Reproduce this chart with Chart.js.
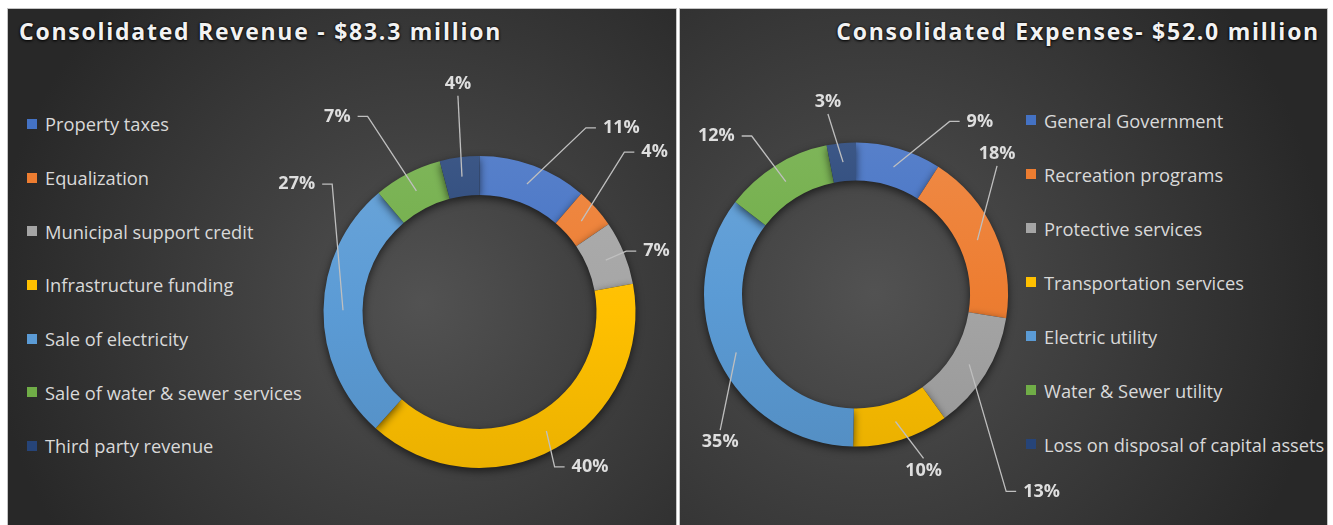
<!DOCTYPE html>
<html>
<head>
<meta charset="utf-8">
<script src="https://cdn.jsdelivr.net/npm/chart.js@4.4.0/dist/chart.umd.min.js"></script>
<style>
  body { margin: 0; background: #fff; width: 1333px; height: 525px; overflow: hidden; font-family: 'Open Sans', sans-serif; }
  .panel { position: absolute; top: 9px; height: 516px; outline: 1px solid #c4c4c4; overflow: hidden; }
  #revPanel { left: 8px; width: 668px; background: radial-gradient(circle at 62% 57%, #525252 0%, #404040 35%, #282828 85%); }
  #expPanel { left: 680px; width: 647px; background: radial-gradient(circle at 30% 55%, #525252 0%, #404040 35%, #282828 85%); }
  .title { position: absolute; top: 6px; font-weight: 700; font-size: 23px; letter-spacing: 1.75px; color: #f2f2f2; white-space: nowrap;
           text-shadow: 0 1px 3px rgba(0,0,0,0.95), 0 0 2px rgba(0,0,0,0.8); }
  #revPanel .title { left: 11px; }
  #expPanel .title { right: 7px; }
  .legend { position: absolute; }
  .legend .item { display: flex; align-items: center; font-size: 18.3px; color: #d9d9d9; white-space: nowrap; }
  #revLegend .item { height: 53.7px; }
  #expLegend .item { height: 54px; }
  .legend .box { width: 10px; height: 10px; margin-right: 8px; flex: none; }
  .wrap { position: absolute; left: 0; top: 0; }
</style>
</head>
<body>
<div class="panel" id="revPanel">
  <div class="title">Consolidated Revenue - $83.3 million</div>
  <div class="legend" id="revLegend" style="left:19px; top:88px;"></div>
  <div class="wrap" style="width:668px; height:516px;"><canvas id="revCanvas"></canvas></div>
</div>
<div class="panel" id="expPanel">
  <div class="title">Consolidated Expenses- $52.0 million</div>
  <div class="legend" id="expLegend" style="left:346px; top:84px;"></div>
  <div class="wrap" style="width:647px; height:516px;"><canvas id="expCanvas"></canvas></div>
</div>
<script>
        // revenue sources, share of total (%)
        const revenueLabels = ['Property taxes', 'Equalization', 'Municipal support credit', 'Infrastructure funding',
            'Sale of electricity', 'Sale of water & sewer services', 'Third party revenue'];
        const revenueShares = [11.3, 4.2, 6.6, 39.5, 27.2, 7.1, 4.1];

        // expense categories, share of total (%)
        const expenseLabels = ['General Government', 'Recreation programs', 'Protective services', 'Transportation services',
            'Electric utility', 'Water & Sewer utility', 'Loss on disposal of capital assets'];
        const expenseShares = [9.1, 18.4, 12.6, 10.2, 35.1, 11.5, 3.1];

        const sliceColors = ['#4472c4', '#ed7d31', '#a5a5a5', '#ffc000', '#5b9bd5', '#70ad47', '#264478'];

        // where each percentage label sits: [degrees clockwise from 12 o'clock, distance in outer radii]
        const revenueSpots = [[37.6, 1.49], [47.6, 1.52], [71, 1.2], [144.5, 1.22], [305, 1.43], [324, 1.55], [354.6, 1.47]];
        const expenseSpots = [[35.6, 1.40], [45.1, 1.31], [136.7, 1.78], [159, 1.24], [222.6, 1.32], [318.6, 1.39], [351.7, 1.28]];

        function shade(hex, amt) {
            const n = parseInt(hex.slice(1), 16);
            let r = n >> 16, g = (n >> 8) & 255, b = n & 255;
            if (amt > 0) { r += (255 - r) * amt; g += (255 - g) * amt; b += (255 - b) * amt; }
            else { r *= 1 + amt; g *= 1 + amt; b *= 1 + amt; }
            return `rgb(${Math.round(r)},${Math.round(g)},${Math.round(b)})`;
        }

        function sliceFill(context) {
            const chart = context.chart;
            const area = chart.chartArea;
            const base = sliceColors[context.dataIndex];
            if (!area) return base;
            const g = chart.ctx.createLinearGradient(0, area.top, 0, area.bottom);
            g.addColorStop(0, shade(base, 0.1));
            g.addColorStop(0.5, base);
            g.addColorStop(1, shade(base, -0.08));
            return g;
        }

        const ringShadow = {
            id: 'ringShadow',
            beforeDatasetsDraw(chart) {
                const c = chart.ctx;
                c.save();
                c.shadowColor = 'rgba(0,0,0,0.6)';
                c.shadowBlur = 9;
                c.shadowOffsetY = 3;
            },
            afterDatasetsDraw(chart) {
                chart.ctx.restore();
            }
        };

        const leaderLabels = {
            id: 'leaderLabels',
            afterDraw(chart, args, opts) {
                const c = chart.ctx;
                const values = chart.data.datasets[0].data;
                const total = values.reduce((a, b) => a + b, 0);
                const meta = chart.getDatasetMeta(0);
                c.save();
                c.font = 'bold 18px "Open Sans"';
                c.textAlign = 'center';
                c.textBaseline = 'middle';
                meta.data.forEach((arc, i) => {
                    const p = arc.getProps(['x', 'y', 'startAngle', 'endAngle', 'innerRadius', 'outerRadius'], true);
                    const mid = (p.startAngle + p.endAngle) / 2;
                    const rm = (p.innerRadius + p.outerRadius) / 2;
                    const ax = p.x + Math.cos(mid) * rm;
                    const ay = p.y + Math.sin(mid) * rm;
                    const spot = opts.spots[i];
                    const t = (spot[0] - 90) * Math.PI / 180;
                    const lx = p.x + Math.cos(t) * p.outerRadius * spot[1];
                    const ly = p.y + Math.sin(t) * p.outerRadius * spot[1];
                    const text = Math.round(values[i] / total * 100) + '%';
                    const hw = c.measureText(text).width / 2;

                    c.strokeStyle = '#bfbfbf';
                    c.lineWidth = 1.3;
                    c.beginPath();
                    c.moveTo(ax, ay);
                    if (Math.abs(lx - ax) > hw + 12) {
                        const dir = lx > ax ? -1 : 1;
                        const edge = lx + dir * (hw + 7);
                        c.lineTo(edge + dir * 10, ly);
                        c.lineTo(edge, ly);
                    } else {
                        const dir = ly > ay ? -1 : 1;
                        c.lineTo(lx, ly + dir * 12);
                    }
                    c.stroke();

                    c.fillStyle = '#dedede';
                    c.fillText(text, lx, ly);
                });
                c.restore();
            }
        };

        function buildLegend(id, labels) {
            const box = document.getElementById(id);
            labels.forEach((name, i) => {
                const row = document.createElement('div');
                row.className = 'item';
                const sw = document.createElement('span');
                sw.className = 'box';
                sw.style.background = sliceColors[i];
                row.appendChild(sw);
                row.appendChild(document.createTextNode(name));
                box.appendChild(row);
            });
        }

        function makeDonut(canvasId, labels, values, spots, padding) {
            const ctx = document.getElementById(canvasId).getContext('2d');
            return new Chart(ctx, {
                type: 'doughnut',
                data: {
                    labels: labels,
                    datasets: [{
                        data: values,
                        backgroundColor: sliceFill,
                        borderWidth: 0
                    }]
                },
                options: {
                    responsive: true,
                    maintainAspectRatio: false,
                    animation: false,
                    events: [],
                    cutout: '75%',
                    layout: { padding: padding },
                    plugins: {
                        legend: { display: false },
                        tooltip: { enabled: false },
                        leaderLabels: { spots: spots }
                    }
                },
                plugins: [ringShadow, leaderLabels]
            });
        }

        buildLegend('revLegend', revenueLabels);
        buildLegend('expLegend', expenseLabels);

        makeDonut('revCanvas', revenueLabels, revenueShares, revenueSpots,
            { left: 315.5, right: 40.5, top: 147, bottom: 57 });
        makeDonut('expCanvas', expenseLabels, expenseShares, expenseSpots,
            { left: 24, right: 319, top: 133.5, bottom: 78.5 });
</script>
</body>
</html>
